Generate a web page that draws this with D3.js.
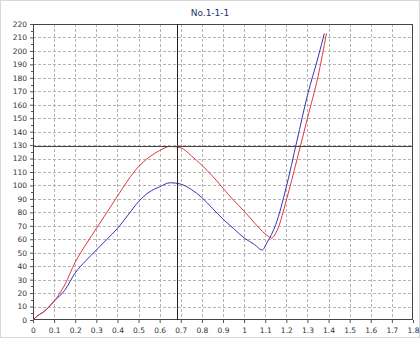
<!DOCTYPE html>
<html>
<head>
<meta charset="utf-8">
<script src="https://cdn.jsdelivr.net/npm/d3@7"></script>
<style>
body { margin:0; background:#fff; }
svg { display:block; font-family:"DejaVu Sans", Verdana, sans-serif; }
</style>
</head>
<body>
<svg id="graph"></svg>
<script>
//data
var redX = [0, 0.02, 0.05, 0.1, 0.15, 0.2, 0.25, 0.3, 0.35, 0.4, 0.45, 0.5, 0.55, 0.6, 0.65, 0.7, 0.75, 0.8, 0.85, 0.9, 0.95, 1.0, 1.05, 1.1, 1.13, 1.16, 1.2, 1.25, 1.3, 1.35, 1.39]
var redY = [0, 3, 6, 14, 26, 43, 56, 68, 80, 92, 104, 114, 121, 126, 129, 128, 122, 115, 107, 98, 89, 81, 72, 64, 61, 68, 89, 119, 150, 181, 213]
var blueX = [0, 0.02, 0.05, 0.1, 0.15, 0.2, 0.25, 0.3, 0.35, 0.4, 0.45, 0.5, 0.55, 0.6, 0.65, 0.7, 0.75, 0.8, 0.85, 0.9, 0.95, 1.0, 1.05, 1.085, 1.11, 1.15, 1.2, 1.25, 1.3, 1.35, 1.38]
var blueY = [0, 3, 6, 14, 22, 35, 44, 52, 60, 68, 78, 88, 95, 99, 102, 101, 97, 91, 83, 75, 68, 61, 56, 52, 58, 71, 99, 133, 167, 195, 213]
var xTicks = [0, 0.1, 0.2, 0.3, 0.4, 0.5, 0.6, 0.7, 0.8, 0.9, 1, 1.1, 1.2, 1.3, 1.4, 1.5, 1.6, 1.7, 1.8]
var yTicks = [0, 10, 20, 30, 40, 50, 60, 70, 80, 90, 100, 110, 120, 130, 140, 150, 160, 170, 180, 190, 200, 210, 220]
var cursorX = 0.68
var cursorY = 129
var title = 'No.1-1-1'

var svg = d3.select('#graph')
	.attr('width', 420)
	.attr('height', 338)

var margin = {top:24, right:7, bottom:18, left:33}
var width = 420 - margin.left - margin.right
var height = 338 - margin.top - margin.bottom

var x = d3.scaleLinear().domain([0, 1.8]).range([0, width])
var y = d3.scaleLinear().domain([0, 220]).range([height, 0])

svg.append('rect')
	.attr('x', 0.5).attr('y', 0.5)
	.attr('width', 419).attr('height', 337)
	.attr('fill', '#fff')
	.attr('stroke', '#d8d8d8')

svg.append('text')
	.attr('x', 210).attr('y', 16)
	.attr('text-anchor', 'middle')
	.attr('font-size', 9)
	.attr('fill', '#223366')
	.text(title)

var g = svg.append('g')
	.attr('transform', 'translate(' + margin.left + ',' + margin.top + ')')

//grid
g.selectAll('.gx').data(xTicks.slice(1, -1)).enter().append('line')
	.attr('x1', function(d){ return Math.round(x(d)) + 0.5 })
	.attr('x2', function(d){ return Math.round(x(d)) + 0.5 })
	.attr('y1', 0).attr('y2', height)
	.attr('stroke', '#b4b4b4').attr('stroke-dasharray', '3,2')
g.selectAll('.gy').data(yTicks.slice(1, -1)).enter().append('line')
	.attr('y1', function(d){ return Math.round(y(d)) + 0.5 })
	.attr('y2', function(d){ return Math.round(y(d)) + 0.5 })
	.attr('x1', 0).attr('x2', width)
	.attr('stroke', '#b4b4b4').attr('stroke-dasharray', '3,2')

//axes
var xaxis = g.append('g')
	.attr('transform', 'translate(0,' + height + ')')
	.call(d3.axisBottom(x).tickValues(xTicks).tickSize(3).tickFormat(d3.format('~g')))
var yaxis = g.append('g')
	.call(d3.axisLeft(y).tickValues(yTicks).tickSize(3).tickFormat(d3.format('d')))
//minor ticks on y
g.selectAll('.my').data(d3.range(5, 220, 10)).enter().append('line')
	.attr('x1', -2).attr('x2', 0)
	.attr('y1', function(d){ return Math.round(y(d)) + 0.5 })
	.attr('y2', function(d){ return Math.round(y(d)) + 0.5 })
	.attr('stroke', '#555')

svg.selectAll('.tick text').attr('font-size', 7.5).attr('fill', '#333').attr('font-family', '"DejaVu Sans", Verdana, sans-serif')
svg.selectAll('.tick line').attr('stroke', '#555')
svg.selectAll('.domain').remove()
xaxis.selectAll('.tick text').attr('dy', '0.9em')
yaxis.selectAll('.tick text').attr('x', -6)

//frame
g.append('rect')
	.attr('x', 0.5).attr('y', 0.5)
	.attr('width', width - 1).attr('height', height - 1)
	.attr('fill', 'none').attr('stroke', '#444')

//curves
var line = d3.line()
	.curve(d3.curveMonotoneX)
	.x(function(d){ return x(d[0]) })
	.y(function(d){ return y(d[1]) })

g.append('path')
	.datum(d3.zip(blueX, blueY))
	.attr('d', line)
	.attr('fill', 'none').attr('stroke', '#3333bb').attr('stroke-width', 1)
g.append('path')
	.datum(d3.zip(redX, redY))
	.attr('d', line)
	.attr('fill', 'none').attr('stroke', '#e03a3a').attr('stroke-width', 1)

//cursor lines
g.append('line')
	.attr('x1', Math.round(x(cursorX)) + 0.5).attr('x2', Math.round(x(cursorX)) + 0.5)
	.attr('y1', 0).attr('y2', height)
	.attr('stroke', '#222')
g.append('line')
	.attr('y1', Math.round(y(cursorY)) + 0.5).attr('y2', Math.round(y(cursorY)) + 0.5)
	.attr('x1', 0).attr('x2', width)
	.attr('stroke', '#444')
</script>
</body>
</html>
